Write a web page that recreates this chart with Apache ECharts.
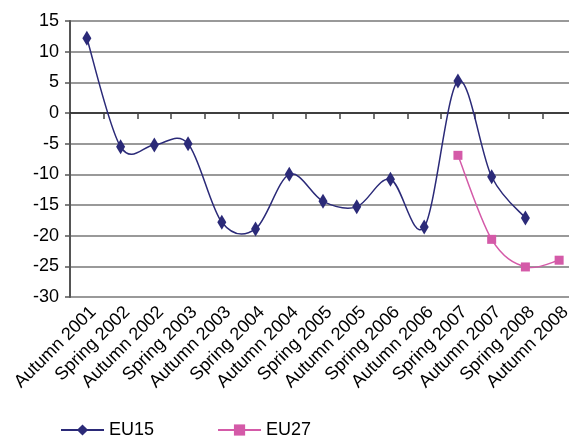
<!DOCTYPE html>
<html>
<head>
<meta charset="utf-8">
<script src="https://cdn.jsdelivr.net/npm/echarts@6/dist/echarts.min.js"></script>
<style>
html, body { margin: 0; padding: 0; background: #fff; }
#chart { width: 569px; height: 438px; }
</style>
</head>
<body>
<div id="chart"></div>
<script>
var categories = ['Autumn 2001', 'Spring 2002', 'Autumn 2002', 'Spring 2003', 'Autumn 2003',
    'Spring 2004', 'Autumn 2004', 'Spring 2005', 'Autumn 2005', 'Spring 2006',
    'Autumn 2006', 'Spring 2007', 'Autumn 2007', 'Spring 2008', 'Autumn 2008'];
var eu15 = [12.2, -5.5, -5.2, -5.0, -17.8, -18.9, -10.0, -14.4, -15.3, -10.8, -18.6, 5.2, -10.4, -17.1, null];
var eu27 = [null, null, null, null, null, null, null, null, null, null, null, -6.9, -20.6, -25.1, -24.0];
var yTicks = {min: -30, max: 15, interval: 5};

var blue = '#2b2a78';
var pink = '#d45aa8';
var font = '"Liberation Sans", Arial, sans-serif';

// [categoryIndex, value] pairs, skipping gaps
function toPoints(arr) {
    var out = [];
    for (var i = 0; i < arr.length; i++) {
        if (arr[i] !== null) out.push([i, arr[i]]);
    }
    return out;
}

// smooth curve like the spreadsheet one: each segment is a bezier
// with control points from neighbouring points (catmull-rom style)
function curveSeries(points, color) {
    return {
        type: 'custom',
        data: points,
        encode: { x: 0, y: 1 },
        z: 1,
        silent: true,
        renderItem: function (params, api) {
            var i = params.dataIndex;
            var n = points.length;
            if (i >= n - 1) return null;
            var c = function (k) {
                k = Math.max(0, Math.min(n - 1, k));
                return api.coord(points[k]);
            };
            var p0 = c(i - 1), p1 = c(i), p2 = c(i + 1), p3 = c(i + 2);
            return {
                type: 'bezierCurve',
                shape: {
                    x1: p1[0], y1: p1[1],
                    x2: p2[0], y2: p2[1],
                    cpx1: p1[0] + (p2[0] - p0[0]) / 6,
                    cpy1: p1[1] + (p2[1] - p0[1]) / 6,
                    cpx2: p2[0] - (p3[0] - p1[0]) / 6,
                    cpy2: p2[1] - (p3[1] - p1[1]) / 6
                },
                style: { stroke: color, lineWidth: 1.5, fill: null }
            };
        }
    };
}

var chart = echarts.init(document.getElementById('chart'));

option = {
    animation: false,
    textStyle: { fontFamily: font },
    grid: { left: 70, width: 506, top: 21, bottom: 141, containLabel: false, outerBoundsMode: 'none' },
    legend: {
        left: 55,
        top: 416,
        itemWidth: 43,
        itemHeight: 14,
        itemGap: 63,
        textStyle: { fontSize: 18, color: '#000', fontFamily: font },
        data: [
            { name: 'EU15', lineStyle: { color: blue, width: 2, opacity: 1 } },
            { name: 'EU27', lineStyle: { color: pink, width: 2, opacity: 1 } }
        ]
    },
    xAxis: {
        type: 'category',
        data: categories,
        boundaryGap: true,
        axisLine: { lineStyle: { color: '#222', width: 1.5 } },
        axisTick: { show: true, length: 6, lineStyle: { color: '#444', width: 1.5 } },
        axisLabel: {
            interval: 0, rotate: 45, fontSize: 18, color: '#000', margin: 6,
            verticalAlign: 'top', fontFamily: font
        },
        splitLine: { show: false }
    },
    yAxis: {
        type: 'value',
        min: yTicks.min,
        max: yTicks.max,
        interval: yTicks.interval,
        axisLine: { show: true, lineStyle: { color: '#555', width: 2 } },
        axisTick: { show: true, length: 5, lineStyle: { color: '#555', width: 1.5 } },
        axisLabel: { fontSize: 18, color: '#000', margin: 11, fontFamily: font },
        splitLine: { lineStyle: { color: '#777', width: 1.5 } }
    },
    series: [
        curveSeries(toPoints(eu15), blue),
        curveSeries(toPoints(eu27), pink),
        {
            name: 'EU15',
            type: 'line',
            data: eu15,
            z: 3,
            symbol: 'diamond',
            symbolSize: [9, 15],
            lineStyle: { color: blue, width: 1.5, opacity: 0 },
            itemStyle: { color: blue }
        },
        {
            name: 'EU27',
            type: 'line',
            data: eu27,
            z: 3,
            symbol: 'rect',
            symbolSize: 9,
            lineStyle: { color: pink, width: 1.5, opacity: 0 },
            itemStyle: { color: pink }
        }
    ]
};

chart.setOption(option);
</script>
</body>
</html>
